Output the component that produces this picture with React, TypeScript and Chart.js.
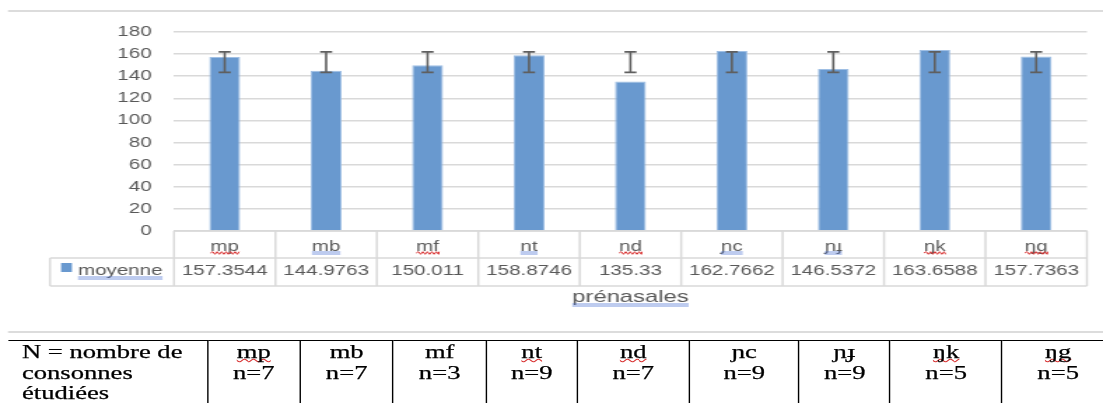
import React, { useEffect, useRef } from "react";
import { Chart, registerables } from "chart.js";

Chart.register(...registerables);

// ---------- data ----------
const categories = ["mp", "mb", "mf", "nt", "nd", "ɲc", "ɲɟ", "ŋk", "ŋg"];
const moyenne = [157.3544, 144.9763, 150.011, 158.8746, 135.33, 162.7662, 146.5372, 163.6588, 157.7363];
const errorLow = [143.5, 143.5, 143.5, 143.5, 143.5, 143.5, 143.5, 143.5, 143.5];
const errorHigh = [162, 162, 162, 162, 162, 162, 162, 162, 162];
const seriesName = "moyenne";
const axisTitle = "prénasales";
const yMin = 0;
const yMax = 180;
const yStep = 20;
const tableHeaderLines = ["N = nombre de", "consonnes", "étudiées"];
const tableCounts = [7, 7, 3, 9, 7, 9, 9, 5, 5];

// ---------- styles (not data) ----------
// spell-check marks in the chart data table: "r" red wavy, "b" blue double
const chartLabelMarks = ["r", "b", "r", "b", "r", "b", "b", "r", "r"];
// spell-check marks in the word table
const tableLabelMarks = [true, false, false, true, true, false, false, true, true];

const PAGE_W = 1103;
const W = 788; // design width, stretched horizontally to PAGE_W
const SX = PAGE_W / W;
const CANVAS_H = 336;
const FONT = '"Liberation Sans", Arial, sans-serif';
const GRAY = "#595959";
const BAR = "#6999CF";
const LINE = "#d9d9d9";

function wavy(ctx: CanvasRenderingContext2D, x0: number, x1: number, y: number, color: string) {
  ctx.save();
  ctx.strokeStyle = color;
  ctx.lineWidth = 1;
  ctx.beginPath();
  let up = true;
  ctx.moveTo(x0, y);
  for (let x = x0; x < x1; x += 1.6) {
    ctx.lineTo(Math.min(x + 1.6, x1), up ? y - 1.3 : y + 1.3);
    up = !up;
  }
  ctx.stroke();
  ctx.restore();
}

function doubleLine(ctx: CanvasRenderingContext2D, x0: number, x1: number, y: number) {
  ctx.save();
  ctx.strokeStyle = "rgba(70,110,210,0.7)";
  ctx.lineWidth = 1;
  ctx.beginPath();
  ctx.moveTo(x0, y + 0.5);
  ctx.lineTo(x1, y + 0.5);
  ctx.moveTo(x0, y + 2.5);
  ctx.lineTo(x1, y + 2.5);
  ctx.stroke();
  ctx.restore();
}

const errorBarPlugin = {
  id: "errorBars",
  afterDatasetsDraw(chart: any) {
    const { ctx } = chart;
    const y = chart.scales.y;
    const meta = chart.getDatasetMeta(0);
    ctx.save();
    ctx.strokeStyle = "#5f5f5f";
    ctx.lineWidth = 1.6;
    meta.data.forEach((el: any, i: number) => {
      const x = el.x;
      const yh = y.getPixelForValue(errorHigh[i]);
      const yl = y.getPixelForValue(errorLow[i]);
      const cap = 4.3;
      ctx.beginPath();
      ctx.moveTo(x, yh);
      ctx.lineTo(x, yl);
      ctx.moveTo(x - cap, yh);
      ctx.lineTo(x + cap, yh);
      ctx.moveTo(x - cap, yl);
      ctx.lineTo(x + cap, yl);
      ctx.stroke();
    });
    ctx.restore();
  },
};

const tablePlugin = {
  id: "dataTable",
  afterDraw(chart: any) {
    const { ctx, chartArea: a } = chart;
    const x = chart.scales.x;
    const n = categories.length;
    const colW = (a.right - a.left) / n;
    const rTop = a.bottom;
    const rMid = rTop + 27;
    const rBot = rTop + 55;
    const legendLeft = 35.7;

    ctx.save();
    // chart frame lines
    ctx.strokeStyle = "#dcdcdc";
    ctx.lineWidth = 2;
    ctx.beginPath();
    ctx.moveTo(5.7, 11);
    ctx.lineTo(W, 11);
    ctx.moveTo(5.7, 332);
    ctx.lineTo(W, 332);
    ctx.stroke();

    // table grid
    ctx.strokeStyle = LINE;
    ctx.lineWidth = 1.5;
    ctx.beginPath();
    ctx.moveTo(a.left, rTop);
    ctx.lineTo(a.right, rTop);
    ctx.moveTo(legendLeft, rMid);
    ctx.lineTo(a.right, rMid);
    ctx.moveTo(legendLeft, rBot);
    ctx.lineTo(a.right, rBot);
    ctx.moveTo(legendLeft, rMid);
    ctx.lineTo(legendLeft, rBot);
    for (let i = 0; i <= n; i++) {
      const xx = a.left + i * colW;
      ctx.moveTo(xx, rTop);
      ctx.lineTo(xx, rBot);
    }
    ctx.stroke();

    // category labels and values
    ctx.font = `14.7px ${FONT}`;
    ctx.textAlign = "center";
    ctx.textBaseline = "alphabetic";
    categories.forEach((c, i) => {
      const cx = x.getPixelForValue(i);
      ctx.fillStyle = GRAY;
      ctx.fillText(c, cx, rTop + 19.5);
      const w = ctx.measureText(c).width;
      if (chartLabelMarks[i] === "r") wavy(ctx, cx - w / 2, cx + w / 2, rTop + 22, "#d83030");
      else doubleLine(ctx, cx - w / 2, cx + w / 2, rTop + 20.5);
      ctx.fillStyle = GRAY;
      ctx.fillText(String(moyenne[i]), cx, rMid + 17);
    });

    // legend key + series name
    ctx.fillStyle = BAR;
    ctx.fillRect(43.6, rMid + 5, 7.8, 9);
    ctx.fillStyle = GRAY;
    ctx.textAlign = "left";
    ctx.fillText(seriesName, 55.7, rMid + 17);
    const mw = ctx.measureText(seriesName).width;
    doubleLine(ctx, 55.7, 55.7 + mw, rMid + 18.5);

    // axis title
    ctx.font = `17px ${FONT}`;
    ctx.textAlign = "center";
    ctx.fillStyle = GRAY;
    const tx = (a.left + a.right) / 2;
    ctx.fillText(axisTitle, tx, 302);
    const tw = ctx.measureText(axisTitle).width;
    doubleLine(ctx, tx - tw / 2, tx + tw / 2, 303.5);
    ctx.restore();
  },
};

function ChartCanvas() {
  const ref = useRef<HTMLCanvasElement | null>(null);
  useEffect(() => {
    if (!ref.current) return;
    const chart = new Chart(ref.current, {
      type: "bar",
      data: {
        labels: categories,
        datasets: [
          {
            label: seriesName,
            data: moyenne,
            backgroundColor: BAR,
            borderColor: "#9fbfe4",
            borderWidth: 1,
            barPercentage: 0.305,
            categoryPercentage: 1,
          },
        ],
      },
      options: {
        responsive: false,
        animation: false,
        devicePixelRatio: 1,
        layout: { padding: { left: 0, right: W - 776.5, top: 32, bottom: CANVAS_H - 231 } },
        plugins: { legend: { display: false }, tooltip: { enabled: false } },
        scales: {
          x: { display: false, offset: true },
          y: {
            min: yMin,
            max: yMax,
            ticks: { stepSize: yStep, color: GRAY, font: { family: FONT, size: 14.7 }, padding: 16 },
            grid: { color: LINE, lineWidth: 1.5, drawTicks: false },
            border: { display: false },
            afterFit: (s: any) => {
              s.width = 124.3;
            },
          },
        },
      } as any,
      plugins: [errorBarPlugin, tablePlugin],
    });
    return () => chart.destroy();
  }, []);
  return (
    <canvas
      ref={ref}
      width={W}
      height={CANVAS_H}
      style={{ position: "absolute", left: 0, top: 0, width: W, height: CANVAS_H }}
    />
  );
}

const colWidths = [142.9, 66.4, 66.4, 66.5, 65, 80, 78.6, 65, 80, 80];

function WordTable() {
  const cellBase: React.CSSProperties = {
    borderTop: "1px solid #000",
    borderRight: "1px solid #000",
    verticalAlign: "top",
    padding: "1px 0 0 0",
    height: 80,
    whiteSpace: "nowrap",
    overflow: "hidden",
  };
  const total = colWidths.reduce((s, v) => s + v, 0);
  return (
    <table
      style={{
        position: "absolute",
        top: 340,
        left: 5.7,
        width: total,
        tableLayout: "fixed",
        borderCollapse: "separate",
        borderSpacing: 0,
        fontFamily: '"Liberation Serif", "Times New Roman", serif',
        fontSize: 19,
        lineHeight: "20.5px",
        color: "#000",
        WebkitTextStroke: "0.25px #000",
      }}
    >
      <colgroup>
        {colWidths.map((w, i) => (
          <col key={i} style={{ width: w }} />
        ))}
      </colgroup>
      <tbody>
        <tr>
          <td style={{ ...cellBase, paddingLeft: 10, textAlign: "left" }}>
            {tableHeaderLines.map((l, i) => (
              <div key={i}>{l}</div>
            ))}
          </td>
          {categories.map((c, i) => (
            <td key={c} style={{ ...cellBase, textAlign: "center" }}>
              <div>
                <span
                  style={
                    tableLabelMarks[i]
                      ? {
                          textDecorationLine: "underline",
                          textDecorationStyle: "wavy",
                          textDecorationColor: "#d83030",
                          textDecorationThickness: "1px",
                          textUnderlineOffset: "0px",
                          textDecorationSkipInk: "none",
                        }
                      : {}
                  }
                >
                  {c}
                </span>
              </div>
              <div>n={tableCounts[i]}</div>
            </td>
          ))}
        </tr>
      </tbody>
    </table>
  );
}

export default function App() {
  return (
    <div
      style={{
        position: "fixed",
        left: 0,
        top: 0,
        width: PAGE_W,
        height: 403,
        overflow: "hidden",
        background: "#fff",
      }}
    >
      <div
        style={{
          position: "absolute",
          left: 0,
          top: 0,
          width: W,
          height: 403,
          transform: `scaleX(${SX})`,
          transformOrigin: "0 0",
        }}
      >
        <ChartCanvas />
        <WordTable />
      </div>
    </div>
  );
}
